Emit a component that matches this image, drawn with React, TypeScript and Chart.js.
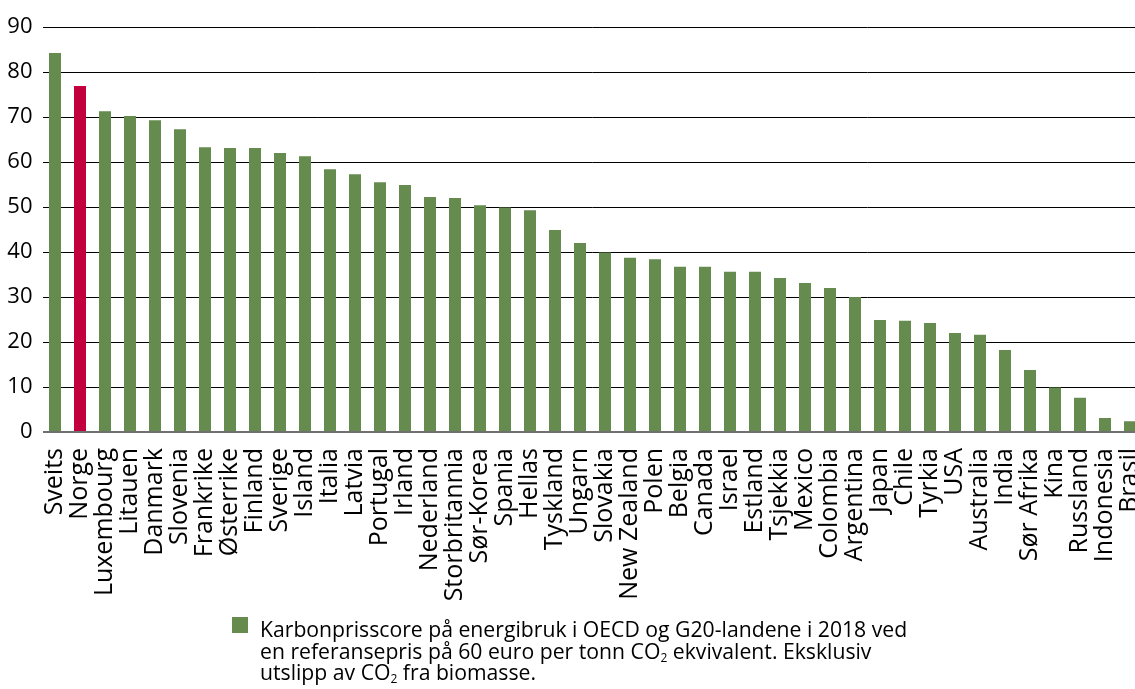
import React, { useEffect, useRef } from "react";
import { Chart, registerables } from "chart.js";

Chart.register(...registerables);

const countries = [
  "Sveits", "Norge", "Luxembourg", "Litauen", "Danmark", "Slovenia", "Frankrike", "Østerrike",
  "Finland", "Sverige", "Island", "Italia", "Latvia", "Portugal", "Irland", "Nederland",
  "Storbritannia", "Sør-Korea", "Spania", "Hellas", "Tyskland", "Ungarn", "Slovakia", "New Zealand",
  "Polen", "Belgia", "Canada", "Israel", "Estland", "Tsjekkia", "Mexico", "Colombia",
  "Argentina", "Japan", "Chile", "Tyrkia", "USA", "Australia", "India", "Sør Afrika",
  "Kina", "Russland", "Indonesia", "Brasil",
];

const scores = [
  84.2, 76.9, 71.3, 70.2, 69.3, 67.3, 63.3, 63.1,
  63.1, 62.0, 61.3, 58.4, 57.3, 55.5, 54.9, 52.2,
  52.0, 50.4, 49.9, 49.3, 44.9, 42.0, 39.9, 38.7,
  38.4, 36.7, 36.7, 35.6, 35.6, 34.2, 33.1, 32.0,
  30.0, 24.9, 24.7, 24.2, 22.0, 21.6, 18.2, 13.8,
  9.9, 7.6, 3.1, 2.4,
];

const highlighted = ["Norge"];

const yTicks = [0, 10, 20, 30, 40, 50, 60, 70, 80, 90];

const GREEN = "#668b4e";
const RED = "#c3003f";
const FONT = "'Open Sans', 'Noto Sans', sans-serif";

export default function App() {
  const ref = useRef<HTMLCanvasElement | null>(null);

  useEffect(() => {
    const canvas = ref.current;
    if (!canvas) return;
    const chart = new Chart(canvas, {
      type: "bar",
      data: {
        labels: countries,
        datasets: [
          {
            label: "Karbonprisscore",
            data: scores,
            backgroundColor: countries.map((c) => (highlighted.includes(c) ? RED : GREEN)),
            barPercentage: 0.48,
            categoryPercentage: 1,
          },
        ],
      },
      options: {
        animation: false,
        responsive: false,
        devicePixelRatio: 1,
        layout: { padding: { top: 27, right: 7.5, left: 0, bottom: 0 } },
        plugins: { legend: { display: false }, tooltip: { enabled: false } },
        scales: {
          x: {
            grid: { display: false },
            border: { display: false },
            ticks: {
              autoSkip: false,
              maxRotation: 90,
              minRotation: 90,
              padding: 8,
              color: "#000",
              font: { family: FONT, size: 25 },
            },
            afterFit: (s: any) => {
              s.height = 257;
              s.paddingLeft = 0;
              s.paddingRight = 0;
            },
          },
          y: {
            min: 0,
            max: 90,
            afterBuildTicks: (s: any) => {
              s.ticks = yTicks.map((v) => ({ value: v }));
            },
            grid: {
              drawTicks: false,
              color: (ctx: any) => (ctx.tick && ctx.tick.value === 0 ? "#707070" : "#000"),
              lineWidth: (ctx: any) => (ctx.tick && ctx.tick.value === 0 ? 2 : 1),
            },
            border: { display: false },
            ticks: {
              padding: 10,
              color: "#000",
              font: { family: FONT, size: 22 },
            },
            afterFit: (s: any) => {
              s.width = 42.5;
            },
          },
        },
      },
    });
    return () => chart.destroy();
  }, []);

  return (
    <div
      style={{
        position: "fixed",
        left: 0,
        top: 0,
        width: 1135,
        height: 689,
        overflow: "hidden",
        background: "#fff",
      }}
    >
      <canvas ref={ref} width={1150} height={689} style={{ position: "absolute", left: 0, top: 0 }} />
      <div
        style={{
          position: "absolute",
          left: 232,
          top: 617,
          width: 16,
          height: 16,
          background: GREEN,
        }}
      />
      <div
        style={{
          position: "absolute",
          left: 260,
          top: 618,
          width: 800,
          fontFamily: FONT,
          fontSize: 21.2,
          lineHeight: "21.5px",
          color: "#000",
          whiteSpace: "nowrap",
        }}
      >
        Karbonprisscore på energibruk i OECD og G20-landene i 2018 ved
        <br />
        en referansepris på 60 euro per tonn CO<sub style={{ fontSize: 12, verticalAlign: "-3px", lineHeight: 0 }}>2</sub> ekvivalent. Eksklusiv
        <br />
        utslipp av CO<sub style={{ fontSize: 12, verticalAlign: "-3px", lineHeight: 0 }}>2</sub> fra biomasse.
      </div>
    </div>
  );
}
